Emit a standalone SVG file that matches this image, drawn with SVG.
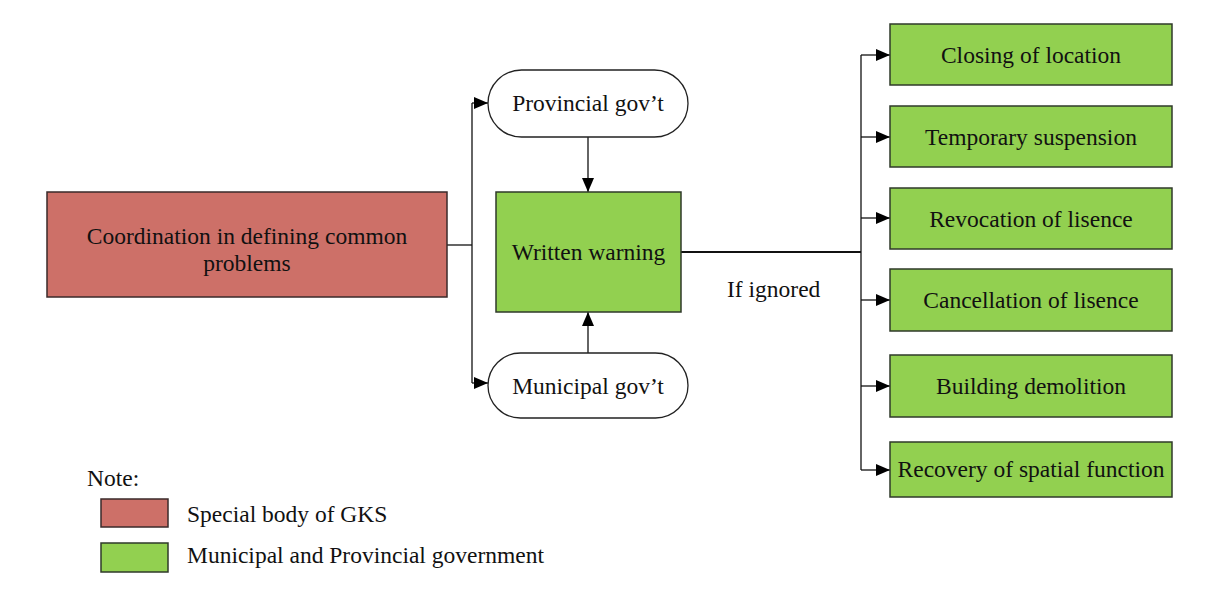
<svg xmlns="http://www.w3.org/2000/svg" width="1218" height="608" viewBox="0 0 1218 608">
<style>
text{font-family:"Liberation Serif","Times New Roman",serif;font-size:23.5px;fill:#111}
.c{text-anchor:middle}
.red{fill:#CD7068;stroke:#3a2a2a;stroke-width:1.5}
.grn{fill:#92D050;stroke:#2f3a2a;stroke-width:1.5}
.pill{fill:#fff;stroke:#222;stroke-width:1.3}
.ln{fill:none;stroke:#111;stroke-width:1.3}
</style>
<defs>
<marker id="ah" markerUnits="userSpaceOnUse" markerWidth="14" markerHeight="12" refX="14" refY="6" orient="auto">
<path d="M0,0 L14,6 L0,12 Z" fill="#000"/>
</marker>
</defs>
<rect width="1218" height="608" fill="#fff"/>
<g id="connectors">
<path class="ln" d="M447,245 H472"/>
<path class="ln" d="M472,103 V383"/>
<path class="ln" d="M472,103 H488" marker-end="url(#ah)"/>
<path class="ln" d="M472,383 H488" marker-end="url(#ah)"/>
<path class="ln" d="M588,137 V192" marker-end="url(#ah)"/>
<path class="ln" d="M588,353 V312" marker-end="url(#ah)"/>
<path class="ln" d="M681,252 H861" style="stroke-width:2"/>
<path class="ln" d="M861,55 V470"/>
<path class="ln" d="M861,55 H890" marker-end="url(#ah)"/>
<path class="ln" d="M861,137 H890" marker-end="url(#ah)"/>
<path class="ln" d="M861,218 H890" marker-end="url(#ah)"/>
<path class="ln" d="M861,300 H890" marker-end="url(#ah)"/>
<path class="ln" d="M861,386 H890" marker-end="url(#ah)"/>
<path class="ln" d="M861,470 H890" marker-end="url(#ah)"/>
<text x="727" y="297">If ignored</text>
</g>
<g id="coordination">
<rect class="red" x="47" y="192" width="400" height="105"/>
<text class="c" x="247" y="244">Coordination in defining common</text>
<text class="c" x="247" y="271">problems</text>
</g>
<g id="provincial">
<rect class="pill" x="488" y="70" width="200" height="67" rx="33.5"/>
<text class="c" x="588" y="111">Provincial gov’t</text>
</g>
<g id="written">
<rect class="grn" x="496" y="192" width="185" height="120"/>
<text class="c" x="588.5" y="260">Written warning</text>
</g>
<g id="municipal">
<rect class="pill" x="488" y="353" width="200" height="65" rx="32.5"/>
<text class="c" x="588" y="394">Municipal gov’t</text>
</g>
<g id="closing">
<rect class="grn" x="890" y="24" width="282" height="61"/>
<text class="c" x="1031" y="63">Closing of location</text>
</g>
<g id="temporary">
<rect class="grn" x="890" y="106" width="282" height="61"/>
<text class="c" x="1031" y="145">Temporary suspension</text>
</g>
<g id="revocation">
<rect class="grn" x="890" y="188" width="282" height="61"/>
<text class="c" x="1031" y="227">Revocation of lisence</text>
</g>
<g id="cancellation">
<rect class="grn" x="890" y="269" width="282" height="62"/>
<text class="c" x="1031" y="308">Cancellation of lisence</text>
</g>
<g id="demolition">
<rect class="grn" x="890" y="355" width="282" height="62"/>
<text class="c" x="1031" y="394">Building demolition</text>
</g>
<g id="recovery">
<rect class="grn" x="890" y="442" width="282" height="55"/>
<text class="c" x="1031" y="477">Recovery of spatial function</text>
</g>
<g id="legend">
<text x="87" y="486">Note:</text>
<rect class="red" x="101" y="499" width="67" height="28"/>
<text x="187" y="522">Special body of GKS</text>
<rect class="grn" x="101" y="543" width="67" height="29"/>
<text x="187" y="563">Municipal and Provincial government</text>
</g>
</svg>
